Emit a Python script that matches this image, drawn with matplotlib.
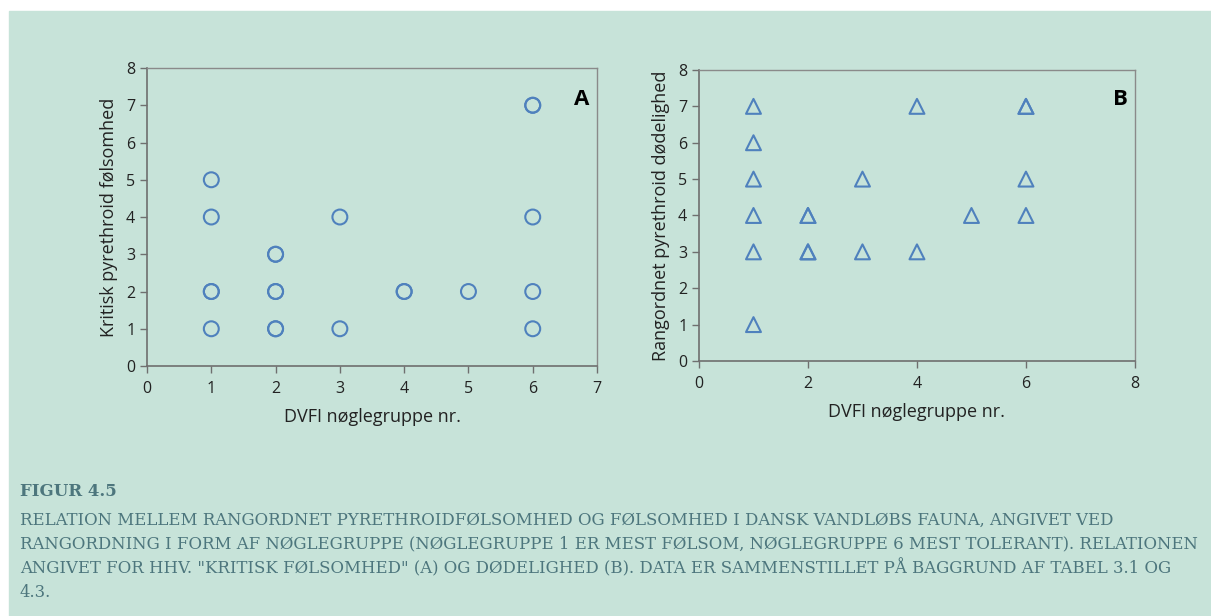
import matplotlib.pyplot as plt
from matplotlib.patches import Rectangle

# panel A: DVFI key group vs critical pyrethroid sensitivity
a_x = [1, 1, 1, 1, 1, 2, 2, 2, 2, 2, 2, 3, 3, 4, 4, 5, 6, 6, 6, 6, 6]
a_y = [5, 4, 2, 2, 1, 3, 3, 2, 2, 1, 1, 4, 1, 2, 2, 2, 7, 7, 4, 2, 1]

# panel B: DVFI key group vs ranked pyrethroid mortality
b_x = [1, 1, 1, 1, 1, 1, 2, 2, 2, 2, 3, 3, 4, 4, 5, 6, 6, 6, 6]
b_y = [7, 6, 5, 4, 3, 1, 4, 4, 3, 3, 5, 3, 7, 3, 4, 7, 7, 5, 4]

a_xticks = [0, 1, 2, 3, 4, 5, 6, 7]
b_xticks = [0, 2, 4, 6, 8]
yticks = [0, 1, 2, 3, 4, 5, 6, 7, 8]

caption_title = "FIGUR 4.5"
caption_lines = [
    "RELATION MELLEM RANGORDNET PYRETHROIDFØLSOMHED OG FØLSOMHED I DANSK VANDLØBS FAUNA, ANGIVET VED",
    "RANGORDNING I FORM AF NØGLEGRUPPE (NØGLEGRUPPE 1 ER MEST FØLSOM, NØGLEGRUPPE 6 MEST TOLERANT). RELATIONEN",
    "ANGIVET FOR HHV. \"KRITISK FØLSOMHED\" (A) OG DØDELIGHED (B). DATA ER SAMMENSTILLET PÅ BAGGRUND AF TABEL 3.1 OG",
    "4.3.",
]

bg = "#c7e3d9"
mark = "#4f81bd"
cap_col = "#4d767d"

plt.rcParams['font.family'] = ['Open Sans', 'DejaVu Sans']

fig = plt.figure(figsize=(12.11, 6.16), dpi=100, facecolor="white")
fig.patches.append(Rectangle((9 / 1211, 0), 1, (616 - 11) / 616,
                             transform=fig.transFigure, color=bg, zorder=-10))


def style(ax, xticks, xlim):
    ax.set_facecolor("none")
    ax.set_xlim(xlim)
    ax.set_ylim(0, 8)
    ax.set_xticks(xticks)
    ax.set_yticks(yticks)
    for s in ["left", "bottom"]:
        ax.spines[s].set_color("#6f6f6f")
        ax.spines[s].set_linewidth(1.2)
    for s in ["top", "right"]:
        ax.spines[s].set_color("#8a8a8a")
        ax.spines[s].set_linewidth(1.0)
    ax.tick_params(direction="out", length=5, width=1, color="#6f6f6f",
                   labelsize=11.5, labelcolor="#222222")
    ax.tick_params(axis="x", pad=6)
    ax.set_xlabel("DVFI nøglegruppe nr.", fontsize=13, color="#222222", labelpad=8)


ax1 = fig.add_axes([0.1214, 0.4058, 0.3716, 0.4838])
ax1.scatter(a_x, a_y, s=115, facecolors="none", edgecolors=mark, linewidths=1.5, zorder=3)
style(ax1, a_xticks, (0, 7))
ax1.set_ylabel("Kritisk pyrethroid følsomhed", fontsize=13, color="#222222", labelpad=6)
ax1.text(0.984, 0.893, "A", transform=ax1.transAxes, fontsize=16, fontweight="bold",
         ha="right", va="center")

ax2 = fig.add_axes([0.5772, 0.414, 0.3600, 0.4724])
ax2.scatter(b_x, b_y, s=115, marker="^", facecolors="none", edgecolors=mark, linewidths=1.5, zorder=3)
style(ax2, b_xticks, (0, 8))
ax2.set_ylabel("Rangordnet pyrethroid dødelighed", fontsize=13, color="#222222", labelpad=6)
ax2.text(0.984, 0.9, "B", transform=ax2.transAxes, fontsize=16, fontweight="bold",
         ha="right", va="center")

fig.text(20 / 1211, 1 - 492 / 616, caption_title, family="DejaVu Serif", fontsize=12,
         fontweight="heavy", color=cap_col, va="center")
for i, line in enumerate(caption_lines):
    fig.text(20 / 1211, 1 - (520 + 24.3 * i) / 616, line, family="DejaVu Serif",
             fontsize=11.9, color=cap_col, va="center")

fig.savefig("out.png", dpi=100, facecolor=fig.get_facecolor())
